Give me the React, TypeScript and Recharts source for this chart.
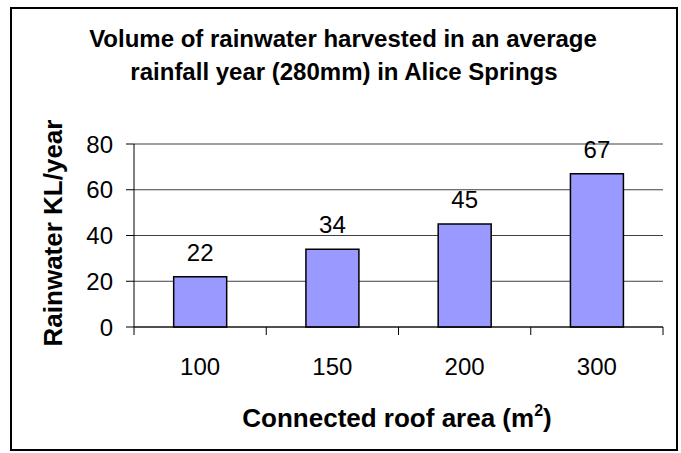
import { BarChart, Bar, XAxis, YAxis, CartesianGrid, LabelList } from 'recharts'

const roofAreas = ['100', '150', '200', '300']
const rainwater = [22, 34, 45, 67]
const yTicks = [0, 20, 40, 60, 80]

const data = roofAreas.map((area, i) => ({ area, kl: rainwater[i] }))

const FONT = '"Liberation Sans", Arial, sans-serif'
const PLOT_LEFT = 134
const PLOT_RIGHT = 663
const BAND = (PLOT_RIGHT - PLOT_LEFT) / roofAreas.length

function AreaTick(props: any) {
  const { x, y, payload, index } = props
  return (
    <g>
      <line x1={x - BAND / 2} y1={y - 8} x2={x - BAND / 2} y2={y} stroke="#000" />
      {index === roofAreas.length - 1 && (
        <line x1={x + BAND / 2} y1={y - 8} x2={x + BAND / 2} y2={y} stroke="#000" />
      )}
      <text x={x} y={y + 40} textAnchor="middle" fontSize={24} fontFamily={FONT} fill="#000">
        {payload.value}
      </text>
    </g>
  )
}

export default function App() {
  return (
    <div style={{ position: 'absolute', left: 0, top: 0, width: 681, height: 453, background: '#fff' }}>
      <BarChart
        width={681}
        height={453}
        data={data}
        margin={{ top: 144, right: 681 - PLOT_RIGHT, bottom: 0, left: 0 }}
        barCategoryGap="30%"
      >
        <CartesianGrid vertical={false} stroke="#404040" />
        <XAxis
          dataKey="area"
          height={126}
          interval={0}
          tickLine={false}
          tickSize={8}
          tickMargin={0}
          axisLine={{ stroke: '#000' }}
          tick={<AreaTick />}
        />
        <YAxis
          width={PLOT_LEFT}
          domain={[0, 80]}
          ticks={yTicks}
          interval={0}
          tickSize={8}
          tickMargin={13}
          axisLine={{ stroke: '#000' }}
          tickLine={{ stroke: '#000' }}
          tick={{ fontSize: 24, fontFamily: FONT, fill: '#000' }}
        />
        <Bar dataKey="kl" fill="#9999ff" stroke="#000" strokeWidth={1.5} isAnimationActive={false}>
          <LabelList dataKey="kl" position="top" offset={16} fontSize={24} fontFamily={FONT} fill="#000" />
        </Bar>
      </BarChart>
      <svg
        width={681}
        height={453}
        style={{ position: 'absolute', left: 0, top: 0, pointerEvents: 'none' }}
      >
        <rect x={11} y={8} width={666} height={442} fill="none" stroke="#000" strokeWidth={2} />
        <text x={343} y={47} textAnchor="middle" fontSize={24} fontWeight="bold" fontFamily={FONT}>
          Volume of rainwater harvested in an average
        </text>
        <text x={344} y={80} textAnchor="middle" fontSize={24} fontWeight="bold" fontFamily={FONT}>
          rainfall year (280mm) in Alice Springs
        </text>
        <text x={397} y={427} textAnchor="middle" fontSize={26} fontWeight="bold" fontFamily={FONT}>
          Connected roof area (m
          <tspan fontSize={16} dy={-11}>2</tspan>
          <tspan dy={11}>)</tspan>
        </text>
        <text
          x={62}
          y={233}
          transform="rotate(-90, 62, 233)"
          textAnchor="middle"
          fontSize={26}
          fontWeight="bold"
          fontFamily={FONT}
        >
          Rainwater KL/year
        </text>
      </svg>
    </div>
  )
}
